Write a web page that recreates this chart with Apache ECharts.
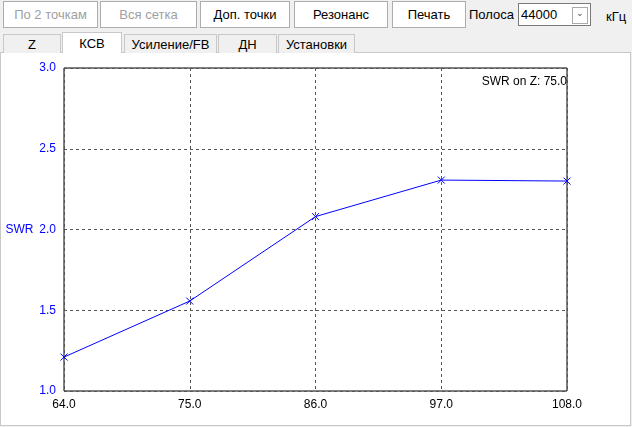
<!DOCTYPE html>
<html><head><meta charset="utf-8">
<script src="https://cdn.jsdelivr.net/npm/echarts@6/dist/echarts.min.js"></script>
<style>
body{margin:0;width:632px;height:427px;background:#f0f0f0;font-family:"Liberation Sans",Arial,sans-serif;font-size:13px;position:relative;overflow:hidden}
.b{position:absolute;top:1px;height:27px;border:1px solid #adadad;background:#fff;box-sizing:border-box;display:flex;align-items:center;justify-content:center}
.d{color:#a0a0a0}
.t{position:absolute;top:34px;height:19px;border:1px solid #c8c8c8;border-bottom:none;background:#f0f0f0;box-sizing:border-box;display:flex;align-items:center;justify-content:center}
#panel{position:absolute;left:0;top:52px;width:631px;height:374px;background:#fff;border:1px solid #c8c8c8;box-sizing:border-box}
#c{position:absolute;left:0;top:0;width:632px;height:427px}
</style></head><body>
<div class="b d" style="left:3px;width:95px">По 2 точкам</div>
<div class="b d" style="left:100px;width:97px">Вся сетка</div>
<div class="b" style="left:200px;width:90px">Доп. точки</div>
<div class="b" style="left:294px;width:94px">Резонанс</div>
<div class="b" style="left:392px;width:74px">Печать</div>
<div style="position:absolute;left:469px;top:7px">Полоса</div>
<div style="position:absolute;left:518px;top:3px;width:73px;height:23px;border:1px solid #7a7a7a;background:#fff;box-sizing:border-box;padding:3px 2px">44000<span style="position:absolute;right:2px;top:3px;width:14px;height:15px;border:1px solid #aaa;font-size:9px;text-align:center;color:#555">⌄</span></div>
<div style="position:absolute;left:606px;top:9px">кГц</div>
<div id="panel"></div>
<div class="t" style="left:3px;width:58px">Z</div>
<div class="t" style="left:62px;width:60px;top:32px;height:21px;background:#fff">КСВ</div>
<div class="t" style="left:124px;width:93px">Усиление/FB</div>
<div class="t" style="left:218px;width:59px">ДН</div>
<div class="t" style="left:278px;width:77px">Установки</div>
<div id="c"></div>
<script>
const xVals=[64,75,86,97,108];
const swr=[1.21,1.557,2.08,2.306,2.30];
const chart=echarts.init(document.getElementById('c'));
chart.setOption({
 animation:false,
 grid:{left:64,right:65,top:68,bottom:36,show:true,borderColor:'#000',borderWidth:1},
 xAxis:{type:'value',min:64,max:108,interval:11,
  axisLine:{show:false},axisTick:{show:false},
  axisLabel:{color:'#000',fontSize:12,formatter:v=>v.toFixed(1),margin:8},
  splitLine:{lineStyle:{color:'#555',type:[3,3]}}},
 yAxis:{type:'value',min:1,max:3,interval:0.5,name:'SWR',nameLocation:'middle',nameGap:3,nameRotate:0,
  nameTextStyle:{color:'#0000ff',fontSize:12,padding:[0,0,50,0]},
  axisLine:{show:false},axisTick:{show:false},
  axisLabel:{color:'#0000ff',fontSize:12,formatter:v=>v.toFixed(1)},
  splitLine:{lineStyle:{color:'#555',type:[3,3]}}},
 graphic:[{type:'text',right:65,top:76,style:{text:'SWR on Z: 75.0',fill:'#000',font:'12px "Liberation Sans",Arial'}}],
 series:[{type:'line',data:xVals.map((x,i)=>[x,swr[i]]),
  lineStyle:{color:'#0000ff',width:1},itemStyle:{color:'#0000ff',borderColor:'#0000ff'},
  symbol:'path://M0,0L10,10M10,0L0,10',symbolSize:7}]
});
</script></body></html>
